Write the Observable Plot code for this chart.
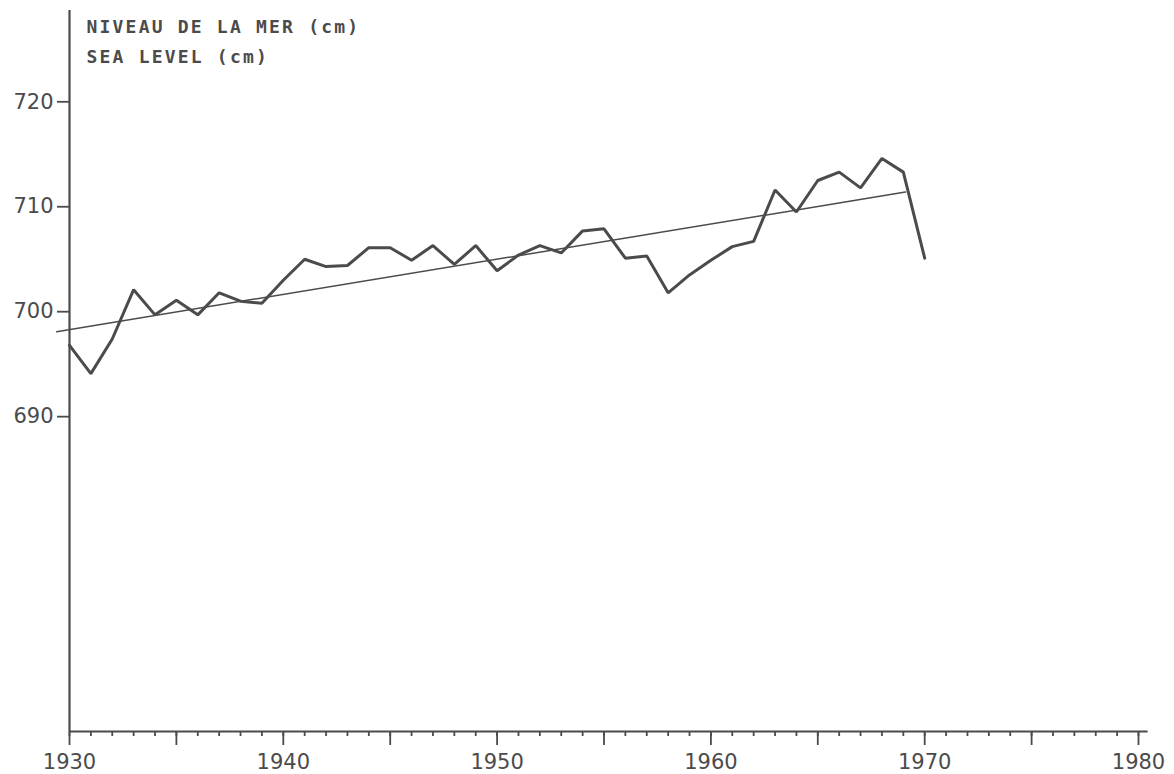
<!DOCTYPE html>
<html>
<head>
<meta charset="utf-8">
<script src="https://cdn.jsdelivr.net/npm/d3@7"></script>
<script src="https://cdn.jsdelivr.net/npm/@observablehq/plot@0.6"></script>
<style>
  html, body { margin: 0; padding: 0; background: #ffffff; }
  #chart svg { display: block; }
</style>
</head>
<body>
<div id="chart"></div>
<script>
// ---- data ----
const years = [1930,1931,1932,1933,1934,1935,1936,1937,1938,1939,
               1940,1941,1942,1943,1944,1945,1946,1947,1948,1949,
               1950,1951,1952,1953,1954,1955,1956,1957,1958,1959,
               1960,1961,1962,1963,1964,1965,1966,1967,1968,1969,1970];
const seaLevel = [696.8,694.1,697.4,702.1,699.7,701.1,699.7,701.8,701.0,700.8,
                  703.0,705.0,704.3,704.4,706.1,706.1,704.9,706.3,704.5,706.3,
                  703.9,705.4,706.3,705.6,707.7,707.9,705.1,705.3,701.8,703.5,
                  704.9,706.2,706.7,711.6,709.5,712.5,713.3,711.8,714.6,713.3,705.1];
const trendYears = [1929.4, 1969.1];
const trendValues = [698.1, 711.4];
const yTicks = [690, 700, 710, 720];
const xLabelTicks = [1930, 1940, 1950, 1960, 1970, 1980];
const xMajorTicks = [1930,1935,1940,1945,1950,1955,1960,1965,1970,1975,1980];
const xMinorTicks = [1930,1931,1932,1933,1934,1935,1936,1937,1938,1939,
                     1940,1941,1942,1943,1944,1945,1946,1947,1948,1949,
                     1950,1951,1952,1953,1954,1955,1956,1957,1958,1959,
                     1960,1961,1962,1963,1964,1965,1966,1967,1968,1969,
                     1970,1971,1972,1973,1974,1975,1976,1977,1978,1979,1980];
const titleFr = "NIVEAU DE LA MER (cm)";
const titleEn = "SEA LEVEL (cm)";

const series = years.map((y, i) => ({year: y, value: seaLevel[i]}));
const trend = trendYears.map((y, i) => ({year: y, value: trendValues[i]}));

const ink = "#4b4b4b";
const yMin = 660, yMax = 728.7;

const titleStyle = {
  frameAnchor: "top-left", dx: 17,
  fontSize: 18, fontWeight: "bold", fontFamily: "DejaVu Sans Mono",
  fill: ink, textAnchor: "start", lineAnchor: "top"
};

const chart = Plot.plot({
  width: 1174,
  height: 774,
  marginLeft: 69,
  marginRight: 36,
  marginTop: 10,
  marginBottom: 43,
  style: {background: "#ffffff", color: ink, fontFamily: "DejaVu Sans"},
  x: {domain: [1930, 1980]},
  y: {domain: [yMin, yMax]},
  marks: [
    // axis lines
    Plot.ruleX([1930], {y1: yMin, y2: yMax, stroke: ink, strokeWidth: 2.2}),
    Plot.ruleY([yMin], {x1: 1930, x2: 1980.45, stroke: ink, strokeWidth: 2.2}),
    // y axis
    Plot.axisY(yTicks, {
      anchor: "left", tickSize: 12, tickPadding: 4, strokeWidth: 1.8,
      fontSize: 21, fill: ink, stroke: ink, label: null,
      tickFormat: d => String(d)
    }),
    // x axis ticks
    Plot.axisX(xMinorTicks, {anchor: "bottom", tickSize: 5, strokeWidth: 1.8, stroke: ink, text: null, label: null}),
    Plot.axisX(xMajorTicks, {anchor: "bottom", tickSize: 14, strokeWidth: 1.8, stroke: ink, text: null, label: null}),
    Plot.axisX(xLabelTicks, {
      anchor: "bottom", tickSize: 0, tickPadding: 23, fontSize: 21,
      fill: ink, label: null, tickFormat: d => String(d)
    }),
    // trend line
    Plot.line(trend, {x: "year", y: "value", stroke: ink, strokeWidth: 1.5}),
    // sea level series
    Plot.line(series, {x: "year", y: "value", stroke: ink, strokeWidth: 3, strokeLinejoin: "miter"}),
    // title inside the frame
    Plot.text([titleFr], {...titleStyle, text: d => d, dy: 10}),
    Plot.text([titleEn], {...titleStyle, text: d => d, dy: 40})
  ]
});

// letter spacing on the title texts
chart.querySelectorAll("text").forEach(t => {
  if (t.textContent === titleFr || t.textContent === titleEn) t.setAttribute("letter-spacing", "2.2");
});
document.getElementById("chart").appendChild(chart);
</script>
</body>
</html>
